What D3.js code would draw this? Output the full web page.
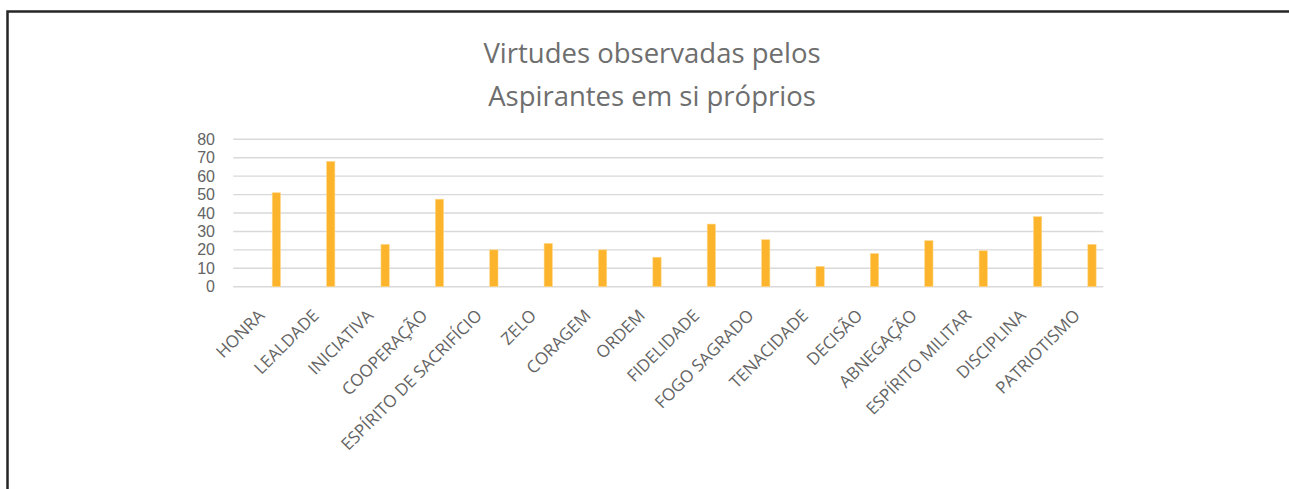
<!DOCTYPE html>
<html><head><meta charset="utf-8">
<script src="https://cdn.jsdelivr.net/npm/d3@7"></script>
<style>html,body{margin:0;padding:0;background:#fff;}svg{display:block;}</style>
</head><body>
<svg id="chart" width="1289" height="489"></svg>
<script>
const titleLines = ["Virtudes observadas pelos", "Aspirantes em si próprios"];
const categories = ["HONRA","LEALDADE","INICIATIVA","COOPERAÇÃO","ESPÍRITO DE SACRIFÍCIO","ZELO","CORAGEM","ORDEM","FIDELIDADE","FOGO SAGRADO","TENACIDADE","DECISÃO","ABNEGAÇÃO","ESPÍRITO MILITAR","DISCIPLINA","PATRIOTISMO"];
const values = [51, 68, 23, 47.5, 20, 23.5, 20, 16, 34, 25.5, 11, 18, 25, 19.5, 38, 23];
const yTicks = [0,10,20,30,40,50,60,70,80];

(function(){
const svg = d3.select("#chart");
const W = 1289, H = 489;
const pL = 233.3, pR = 1103.3, pT = 139.3, pB = 286.7;
const textColor = "#646464";
const font = "'Open Sans', sans-serif";

// frame
svg.append("path").attr("d", `M7.5,${H+5} L7.5,11.5 L${W+5},11.5`)
  .attr("fill","none").attr("stroke","#262626").attr("stroke-width",2.5);

const x = d3.scaleBand().domain(categories).range([pL,pR]).padding(0);
const y = d3.scaleLinear().domain([0,80]).range([pB,pT]);

// title
svg.append("g").selectAll("text").data(titleLines).join("text")
  .attr("x", 652).attr("y",(d,i)=>62.5+i*43)
  .attr("text-anchor","middle").attr("font-family",font).attr("font-size",27.5)
  .attr("fill","#6e6e6e").text(d=>d);

// gridlines
svg.append("g").selectAll("line").data(yTicks).join("line")
  .attr("x1",pL).attr("x2",pR).attr("y1",d=>y(d)).attr("y2",d=>y(d))
  .attr("stroke","#d9d9d9").attr("stroke-width",1.4);

// y axis labels
const yAxis = d3.axisLeft(y).tickValues(yTicks).tickSize(0).tickPadding(0);
const ya = svg.append("g").attr("transform",`translate(215,0)`).call(yAxis);
ya.select(".domain").remove();
ya.selectAll("text").attr("font-family","'Liberation Sans', Arial, sans-serif").attr("font-size",16).attr("fill",textColor);

// bars
const barW = 8.3;
svg.append("g").selectAll("rect").data(values).join("rect")
  .attr("x",(d,i)=>x(categories[i]) + x.bandwidth()*0.792 - barW/2)
  .attr("width",barW)
  .attr("y",d=>y(d)).attr("height",d=>pB - y(d))
  .attr("fill","#FBB42C").attr("stroke","#FFD98C").attr("stroke-width",0.6);

// x axis labels
const xa = svg.append("g").attr("transform",`translate(0,${pB})`)
  .call(d3.axisBottom(x).tickSize(0).tickPadding(0));
xa.select(".domain").remove();
xa.selectAll("text")
  .attr("font-family",font).attr("font-size",17).attr("fill",textColor)
  .attr("text-anchor","end").attr("dy",0).attr("y",0)
  .attr("transform","translate(5,30) rotate(-45)");
})();
</script>
</body></html>
